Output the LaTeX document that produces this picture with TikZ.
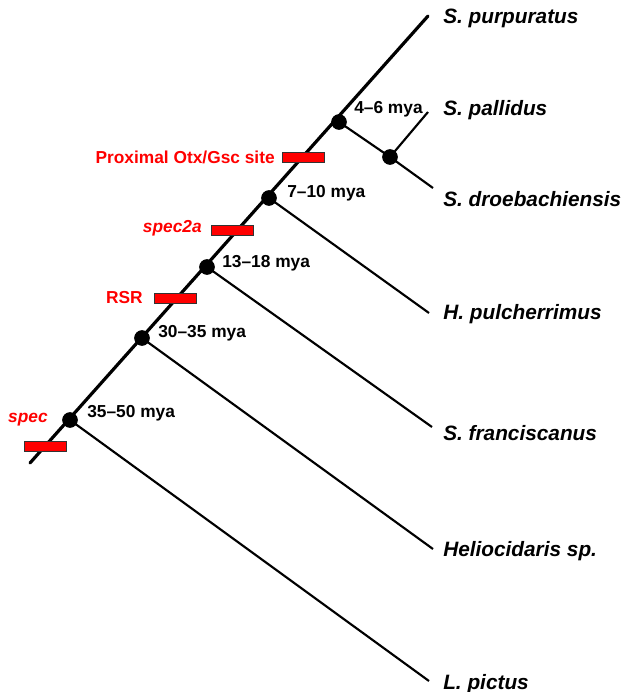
\documentclass[tikz,border=0pt]{standalone}
\usepackage{fontspec}
\setmainfont{Liberation Sans}
\begin{document}
\begin{tikzpicture}[x=0.75pt,y=-0.75pt,
  trunk/.style={line width=2.4pt,line cap=round},
  branch/.style={line width=1.6pt},
  dot/.style={circle,fill=black,inner sep=0pt,minimum size=11.5pt},
  taxon/.style={anchor=west,inner sep=0pt,font=\fontsize{15.6}{18}\selectfont\bfseries\itshape},
  age/.style={anchor=west,inner sep=0pt,font=\fontsize{13}{15}\selectfont\bfseries},
  event/.style={anchor=east,inner sep=0pt,text=red,font=\fontsize{13}{15}\selectfont\bfseries},
  bar/.style={rectangle,draw=black!80,line width=0.6pt,fill=red,inner sep=0pt,
              minimum width=31.5pt,minimum height=7.5pt}]
\useasboundingbox (0,0) rectangle (626,692);

% trunk of the tree
\coordinate (root) at (30,463);
\coordinate (tip) at (428,16);
\draw[trunk] (root) -- (tip);

% divergence points
\node[dot] (n1) at (70,420) {};
\node[dot] (n2) at (142,338) {};
\node[dot] (n3) at (207,267) {};
\node[dot] (n4) at (269,198) {};
\node[dot] (n5) at (339,122) {};
\node[dot] (n6) at (390,157) {};

% branch tips
\coordinate (tpal) at (428,112);
\coordinate (tdro) at (433,188);
\coordinate (thpu) at (429,313);
\coordinate (tfra) at (432,427);
\coordinate (thel) at (433,549);
\coordinate (tpic) at (429,681);

\draw[branch] (n5.center) -- (n6.center);
\draw[branch] (n6.center) -- (tpal);
\draw[branch] (n6.center) -- (tdro);
\draw[branch] (n4.center) -- (thpu);
\draw[branch] (n3.center) -- (tfra);
\draw[branch] (n2.center) -- (thel);
\draw[branch] (n1.center) -- (tpic);

% redraw the dots above the branches
\foreach \n in {n1,n2,n3,n4,n5,n6}
  \fill (\n) circle (5.75pt);

% species
\node[taxon] (purp) at (443,18)  {S. purpuratus};
\node[taxon] (pall) at (443,110) {S. pallidus};
\node[taxon] (droe) at (443,199) {S. droebachiensis};
\node[taxon] (hpul) at (443,314) {H. pulcherrimus};
\node[taxon] (fran) at (443,433) {S. franciscanus};
\node[taxon] (heli) at (443,551) {Heliocidaris sp.};
\node[taxon] (pict) at (443,684) {L. pictus};

% divergence times
\node[age] (a5) at (354,109) {4--6 mya};
\node[age] (a4) at (287,193) {7--10 mya};
\node[age] (a3) at (222,263) {13--18 mya};
\node[age] (a2) at (158,333) {30--35 mya};
\node[age] (a1) at (87,413)  {35--50 mya};

% regulatory events
\node[bar] (bprox) at (303.5,157.5) {};
\node[bar] (bs2a)  at (232,230.5) {};
\node[bar] (brsr)  at (175.5,298.5) {};
\node[bar] (bspec) at (45,446) {};

\node[event] (lprox) at (275,157) {Proximal Otx/Gsc site};
\node[event] (ls2a)  at (202,228) {\itshape spec2a};
\node[event] (lrsr)  at (143,298) {RSR};
\node[event] (lspec) at (48,420)  {\itshape spec};
\end{tikzpicture}
\end{document}
